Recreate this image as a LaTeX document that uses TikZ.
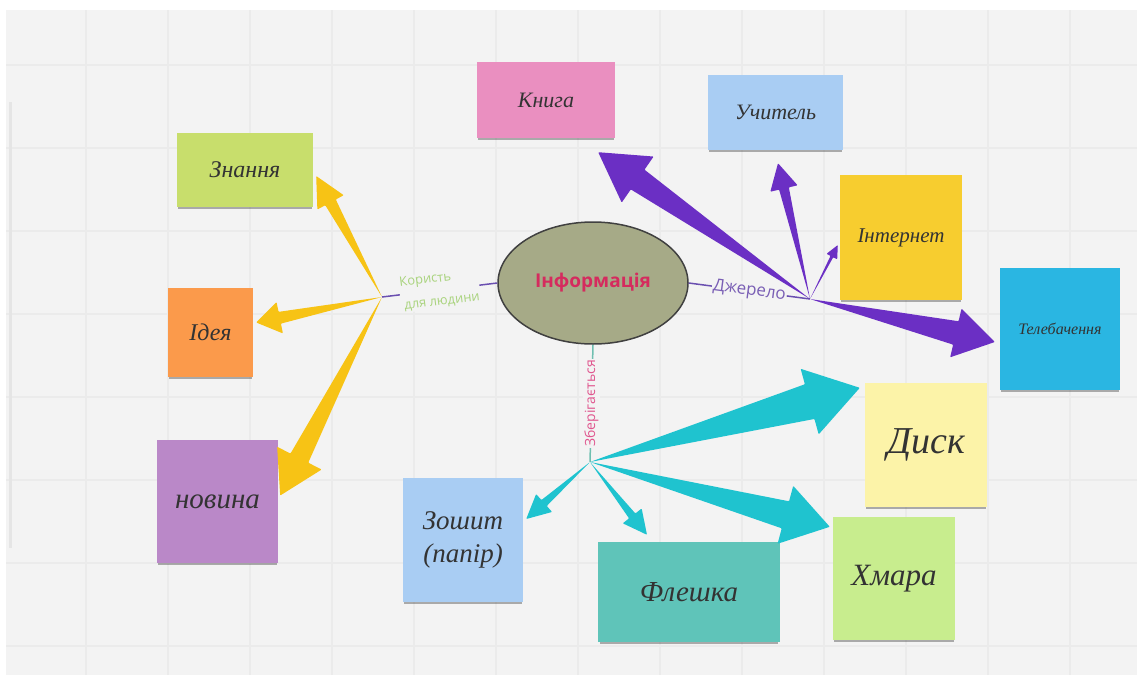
\documentclass[tikz,border=0pt]{standalone}
\usepackage{fontspec}
\setmainfont{Liberation Serif}
\setsansfont{Open Sans}
\usetikzlibrary{calc, shadows, shapes.geometric}

\definecolor{bgcol}{HTML}{F3F3F3}
\definecolor{gridcol}{HTML}{EBEBEB}
\definecolor{yellowarr}{HTML}{F7C315}
\definecolor{purplearr}{HTML}{6B2FC4}
\definecolor{tealarr}{HTML}{1FC3CF}
\definecolor{stubpurple}{HTML}{6A4FB0}
\definecolor{stubteal}{HTML}{6FBFB0}
\definecolor{infofill}{HTML}{A6AA87}
\definecolor{infotext}{HTML}{D52B5E}
\definecolor{benefit}{HTML}{A9D37D}
\definecolor{source}{HTML}{7A5FB5}
\definecolor{stored}{HTML}{E0578F}
\definecolor{pinknote}{HTML}{EA8FC0}
\definecolor{bluenote}{HTML}{A9CDF3}
\definecolor{yellownote}{HTML}{F7CD2F}
\definecolor{cyannote}{HTML}{2AB6E2}
\definecolor{limenote}{HTML}{C8DE6C}
\definecolor{orangenote}{HTML}{FB9A4B}
\definecolor{violetnote}{HTML}{BA88C8}
\definecolor{tealnote}{HTML}{5FC4B9}
\definecolor{creamnote}{HTML}{FCF3A8}
\definecolor{greennote}{HTML}{C8ED8E}

\tikzset{
	note/.style={rectangle, inner sep=2pt, align=center, text=black!80,
		drop shadow={shadow xshift=0pt, shadow yshift=-3pt, shadow scale=0.98, opacity=0.3, fill=black}},
	hand/.style={font=\rmfamily\itshape\fontsize{#1}{#1}\selectfont},
	gridline/.style={draw=gridcol, line width=2.5pt},
	linklabel/.style={font=\sffamily\fontsize{#1}{#1}\selectfont, fill=bgcol, inner sep=1pt, align=center}
}

% tapered arrow: colour, from, to, half shaft, head length, head half width
\newcommand{\fatarrow}[6]{%
	\path ($(#3)!#5pt!(#2)$) coordinate (hb);
	\fill[#1, rounded corners=0.8pt] (#2)
		-- ($(hb)!#4pt!90:(#3)$) -- ($(hb)!#6pt!90:(#3)$)
		-- (#3)
		-- ($(hb)!#6pt!-90:(#3)$) -- ($(hb)!#4pt!-90:(#3)$) -- cycle;
}

\begin{document}
\begin{tikzpicture}[x=1pt, y=-1pt]
	\useasboundingbox (0,0) rectangle (1137,675);
	\fill[white] (0,0) rectangle (1137,675);
	\fill[bgcol] (6,10) rectangle (1137,675);
	\begin{scope}
		\clip (6,10) rectangle (1137,675);
		\foreach \gx in {86,168,...,1152} \draw[gridline] (\gx,10) -- (\gx,675);
		\foreach \gy in {65,148,...,646} \draw[gridline] (6,\gy) -- (1137,\gy);
	\end{scope}
	\draw[draw=black!10, line width=3pt] (10,102) -- (10,548);

	% centre
	\node[ellipse, draw=black!75, line width=1.5pt, fill=infofill, minimum width=190, minimum height=122,
		text=infotext, font=\sffamily\bfseries\fontsize{19}{19}\selectfont] (info) at (593,283) {Інформація};

	% notes
	\node[note, fill=pinknote, minimum width=138, minimum height=76, hand=22] (knyga) at (546,100) {Книга};
	\node[note, fill=bluenote, minimum width=135, minimum height=75, hand=22] (uchytel) at (775.5,112.5) {Учитель};
	\node[note, fill=yellownote, minimum width=122, minimum height=125, hand=21] (internet) at (901,237.5) {Інтернет};
	\node[note, fill=cyannote, minimum width=120, minimum height=122, hand=16] (telebach) at (1060,329) {Телебачення};
	\node[note, fill=limenote, minimum width=136, minimum height=74, hand=24] (znannia) at (245,170) {Знання};
	\node[note, fill=orangenote, minimum width=85, minimum height=89, hand=24] (ideia) at (210.5,332.5) {Ідея};
	\node[note, fill=violetnote, minimum width=121, minimum height=123, hand=29] (novyna) at (217.5,501.5) {новина};
	\node[note, fill=bluenote, minimum width=120, minimum height=124, hand=27] (zoshyt) at (463,540) {Зошит\\[6pt](папір)};
	\node[note, fill=tealnote, minimum width=182, minimum height=100, hand=29] (fleshka) at (689,592) {Флешка};
	\node[note, fill=creamnote, minimum width=122, minimum height=124, hand=38] (dysk) at (926,445) {Диск};
	\node[note, fill=greennote, minimum width=122, minimum height=123, hand=31] (hmara) at (894,578.5) {Хмара};

	% hubs
	\coordinate (hubL) at (382,297);
	\coordinate (hubR) at (810,299);
	\coordinate (hubB) at (590,462);

	% labelled links
	\draw[stubpurple, line width=1.5pt] (hubL) -- node[linklabel=13, sloped, text=benefit, align=left] {Користь\\[10pt]\,для людини} (info.west);
	\draw[stubpurple, line width=1.5pt] (info.east) -- node[linklabel=17, sloped, text=source] {Джерело} (hubR);
	\draw[stubteal, line width=1.5pt] (info.south) -- node[linklabel=14, rotate=90, text=stored] {Зберігається} (hubB);

	% arrow tips
	\coordinate (tZn) at ([shift={(3,6)}]znannia.east);
	\coordinate (tId) at ([shift={(3,-10)}]ideia.east);
	\coordinate (tNov) at ([shift={(2,-6)}]novyna.east);
	\coordinate (tKn) at ([shift={(-17,14)}]knyga.south east);
	\coordinate (tUch) at ([shift={(2.5,13)}]uchytel.south);
	\coordinate (tInt) at ([shift={(-2,7.5)}]internet.west);
	\coordinate (tTel) at ([shift={(-5,13)}]telebach.west);
	\coordinate (tDy) at ([shift={(-5,5)}]dysk.north west);
	\coordinate (tHm) at ([shift={(-3,10)}]hmara.north west);
	\coordinate (tFl) at ([shift={(-42,-7)}]fleshka.north);
	\coordinate (tZo) at ([shift={(3,-21)}]zoshyt.east);

	\fatarrow{yellowarr}{hubL}{tZn}{6}{30}{15}
	\fatarrow{yellowarr}{hubL}{tId}{6}{24}{16}
	\fatarrow{yellowarr}{hubL}{tNov}{10}{42}{25}
	\fatarrow{purplearr}{hubR}{tKn}{12}{48}{28}
	\fatarrow{purplearr}{hubR}{tUch}{5}{26}{14}
	\fatarrow{purplearr}{hubR}{tInt}{1.5}{13}{6}
	\fatarrow{purplearr}{hubR}{tTel}{12}{40}{25}
	\fatarrow{tealarr}{hubB}{tDy}{18}{52}{34}
	\fatarrow{tealarr}{hubB}{tHm}{14}{46}{30}
	\fatarrow{tealarr}{hubB}{tFl}{4}{24}{12}
	\fatarrow{tealarr}{hubB}{tZo}{4}{24}{12}
\end{tikzpicture}
\end{document}
